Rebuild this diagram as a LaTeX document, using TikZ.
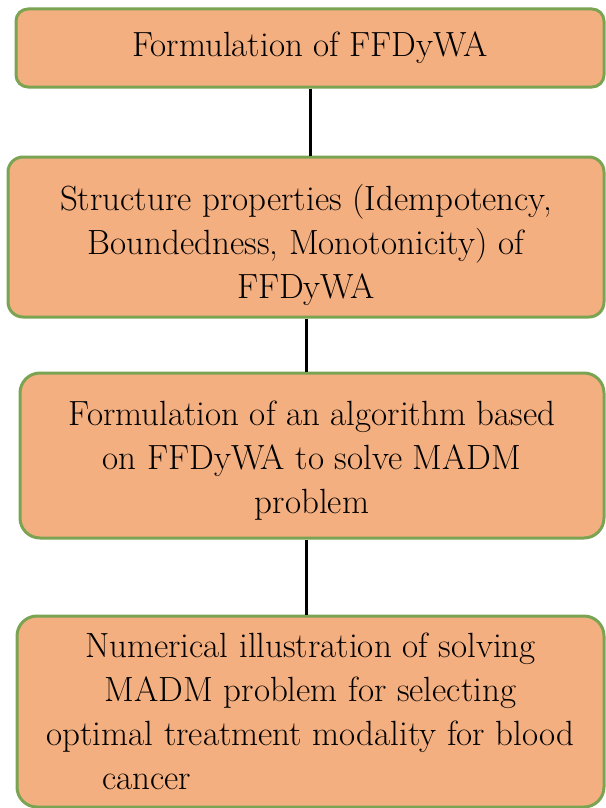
\documentclass[tikz,border=0pt]{standalone}
\usepackage{fontspec}
\definecolor{boxfill}{RGB}{244,175,128}
\definecolor{boxline}{RGB}{122,163,82}
\begin{document}
\begin{tikzpicture}[x=1pt,y=1pt,
        stage/.style={draw=boxline,line width=3pt,fill=boxfill,rectangle,inner sep=0pt,align=center,font=\fontsize{35}{44}\selectfont\addfontfeatures{FakeBold=0.6}},
        link/.style={line width=3pt,black}]
            \useasboundingbox (0,0) rectangle (605,-808);
            \node[stage,rounded corners=12pt,minimum width=588pt,minimum height=78pt] (box1) at (310,-48) {Formulation of FFDyWA};
            \node[stage,rounded corners=15pt,minimum width=596pt,minimum height=160pt] (box2) at (306,-237) {\rule{0pt}{42pt}Structure properties (Idempotency,\\ Boundedness, Monotonicity) of\\ FFDyWA};
            \node[stage,rounded corners=20pt,minimum width=584pt,minimum height=165pt] (box3) at (312,-455.5) {\rule{0pt}{35pt}Formulation of an algorithm based\\ on FFDyWA to solve MADM\\ problem};
            \node[stage,rounded corners=20pt,minimum width=587pt,minimum height=191pt] (box4) at (310.5,-711.5) {Numerical illustration of solving\\ MADM problem for selecting\\ optimal treatment modality for blood\\ \makebox[527pt][l]{\hspace{55pt}cancer}};
            \draw[link] (box1.south) -- (box1.south |- box2.north);
            \draw[link] (box2.south) -- (box2.south |- box3.north);
            \draw[link] ([xshift=-4pt]box4.north) -- ([xshift=-4pt]box4.north |- box3.south);
        \end{tikzpicture}
\end{document}
